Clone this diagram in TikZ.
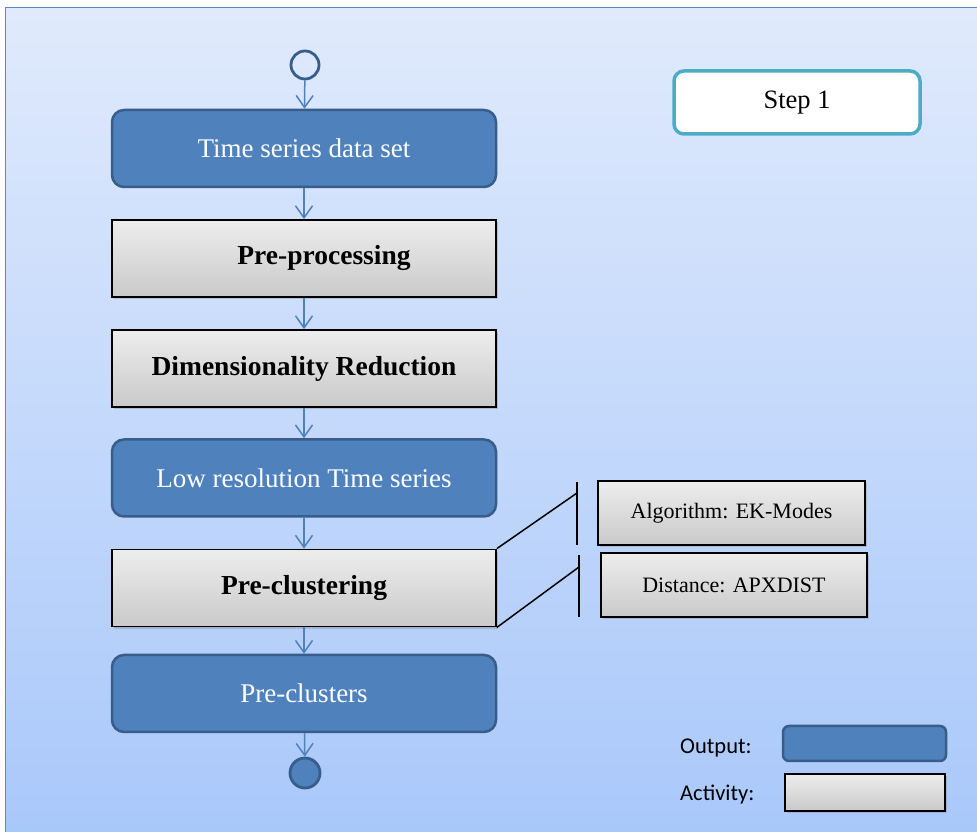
\documentclass[tikz,border=0pt]{standalone}
\usepackage{fontspec}
\setmainfont{Liberation Serif}
\newfontfamily\legendfont{Carlito}
\usetikzlibrary{arrows.meta,shadows}
\definecolor{outfill}{HTML}{4F81BD}
\definecolor{outline}{HTML}{385D8A}
\definecolor{stepline}{HTML}{4BACC6}
\definecolor{bgtop}{HTML}{E0EAFC}
\definecolor{bgbottom}{HTML}{A9C8FA}
\definecolor{frameline}{HTML}{5B87C5}
\tikzset{
  outbox/.style={draw=outline, line width=2.5pt, fill=outfill, rounded corners=12pt,
    minimum width=384pt, minimum height=77pt, text=white,
    font=\fontsize{27}{32}\selectfont},
  actbox/.style={draw=black, line width=1.8pt, top color=gray!14, bottom color=gray!42,
    drop shadow={shadow xshift=1.5pt, shadow yshift=-2.5pt, opacity=0.35},
    minimum width=384pt, minimum height=77pt,
    font=\fontsize{27.5}{32}\selectfont\bfseries},
  notebox/.style={draw=black, line width=1.5pt, top color=gray!14, bottom color=gray!42,
    drop shadow={shadow xshift=1.5pt, shadow yshift=-2.5pt, opacity=0.35},
    minimum height=64pt, font=\fontsize{22}{26}\selectfont},
  flow/.style={draw=outfill, line width=1.5pt, -{Straight Barb[length=12pt,width=17pt,line width=1.5pt]}},
  callout/.style={draw=black, line width=1.5pt},
  legendtext/.style={anchor=west, inner sep=0pt, font=\legendfont\fontsize{22.5}{26}\selectfont}
}
\begin{document}
\begin{tikzpicture}[x=1pt,y=1pt]
\useasboundingbox (0,0) rectangle (977,832);
% background panel with vertical gradient
\fill[white] (0,0) rectangle (977,832);
\shade[top color=bgtop, bottom color=bgbottom] (5,0) rectangle (977,824);
\draw[frameline, line width=1pt] (5,-5) -- (5,824) -- (985,824);

% start and end markers
\node[circle, draw=outline, line width=2.8pt, minimum size=28pt, inner sep=0pt] (start) at (305,767) {};
\node[circle, draw=outline, line width=2.8pt, fill=outfill, minimum size=30pt, inner sep=0pt] (stop) at (305,59) {};

% main flow
\node[outbox] (data) at (304,683.5) {Time series data set};
\node[actbox] (prep) at (304,573.5) {\hspace*{40pt}Pre-processing};
\node[actbox] (dimred) at (304,463.5) {Dimensionality Reduction};
\node[outbox] (lowres) at (304,354) {Low resolution Time series};
\node[actbox] (preclu) at (304,244) {Pre-clustering};
\node[outbox] (clusters) at (304,138.5) {Pre-clusters};

\draw[flow] (start) -- (data);
\draw[flow] (data) -- (prep);
\draw[flow] (prep) -- (dimred);
\draw[flow] (dimred) -- (lowres);
\draw[flow] (lowres) -- (preclu);
\draw[flow] (preclu) -- (clusters);
\draw[flow] (clusters) -- (stop);

% step label
\node[draw=stepline, line width=3.5pt, fill=white, rounded corners=10pt,
  minimum width=246pt, minimum height=63pt, font=\fontsize{26.5}{30}\selectfont] (step) at (797,729.5) {Step 1};

% annotations of the pre-clustering activity
\node[notebox, minimum width=267pt] (algo) at (731.5,319) {Algorithm: EK-Modes};
\node[notebox, minimum width=266pt] (dist) at (734,247) {Distance: APXDIST};
\coordinate (bar1top) at (577,350);
\coordinate (bar1bot) at (577,287);
\coordinate (bar1mid) at (577,339);
\coordinate (bar2top) at (579,277);
\coordinate (bar2bot) at (579,215);
\coordinate (bar2mid) at (579,265);
\draw[callout] (bar1top) -- (bar1bot);
\draw[callout] (bar2top) -- (bar2bot);
\draw[callout] (preclu.north east) -- (bar1mid);
\draw[callout] (preclu.south east) -- (bar2mid);

% legend
\node[legendtext] (outlabel) at (680,84) {Output:};
\node[legendtext] (actlabel) at (680,37) {Activity:};
\node[draw=outline, line width=2.5pt, fill=outfill, rounded corners=6pt,
  minimum width=163pt, minimum height=35pt] (outkey) at (864.5,88.5) {};
\node[draw=black, line width=1.5pt, top color=gray!14, bottom color=gray!42,
  drop shadow={shadow xshift=1.5pt, shadow yshift=-2.5pt, opacity=0.35},
  minimum width=160pt, minimum height=37pt] (actkey) at (865,39.5) {};
\end{tikzpicture}
\end{document}
